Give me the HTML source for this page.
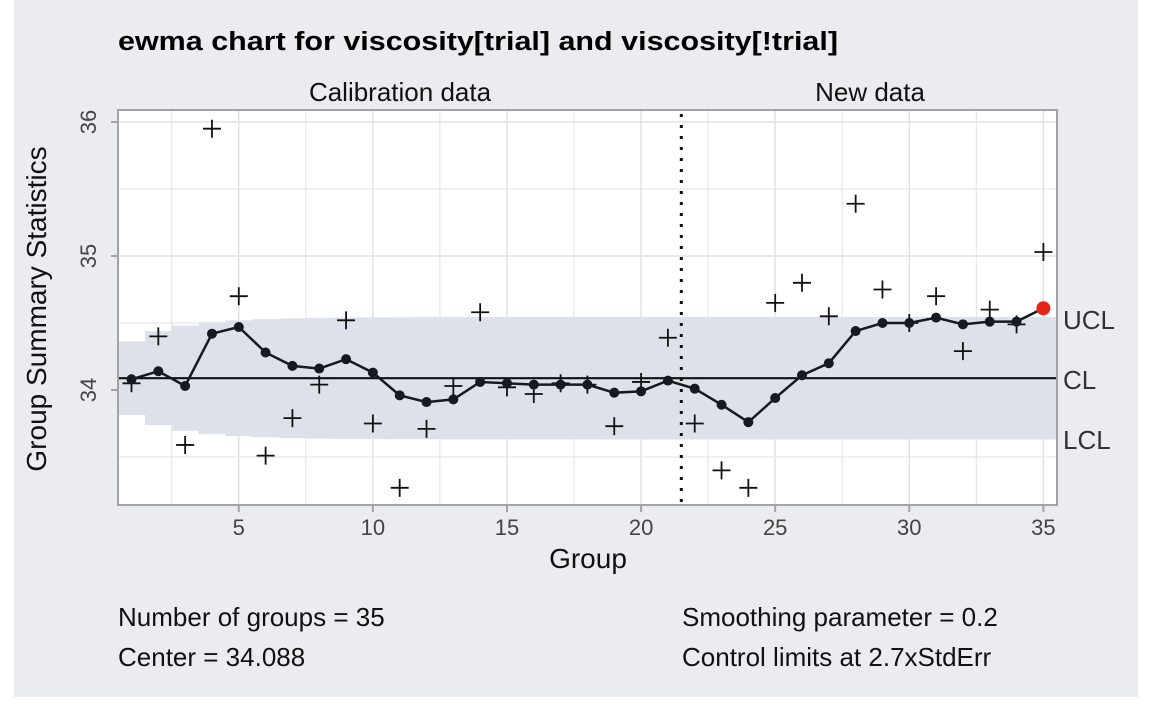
<!DOCTYPE html>
<html><head><meta charset="utf-8"><style>
body{margin:0;background:#fff;}
svg{display:block;font-family:"Liberation Sans",Arial,sans-serif;}
</style></head><body>
<svg id="chart" width="1152" height="711" viewBox="0 0 1152 711">
<rect x="14" y="0" width="1124" height="697" fill="#EBECF0"/>
<text x="118" y="50" font-size="25.5" font-weight="bold" fill="#000" textLength="720" lengthAdjust="spacingAndGlyphs">ewma chart for viscosity[trial] and viscosity[!trial]</text>
<rect x="118" y="110" width="939" height="395" fill="#fff"/>
<g id="grid"></g><g id="band"></g><g id="marks"></g>
<rect x="118" y="110" width="939" height="395" fill="none" stroke="#A3A3A3" stroke-width="2"/>
<text x="400" y="101" font-size="26" text-anchor="middle" fill="#111">Calibration data</text>
<text x="870" y="101" font-size="26" text-anchor="middle" fill="#111">New data</text>
<text transform="translate(46,309) rotate(-90)" font-size="28" text-anchor="middle" fill="#111">Group Summary Statistics</text>
<text x="588" y="568" font-size="28" text-anchor="middle" fill="#111">Group</text>
<text x="1063" y="329" font-size="26" fill="#333">UCL</text>
<text x="1063" y="389" font-size="26" fill="#333">CL</text>
<text x="1063" y="449" font-size="26" fill="#333">LCL</text>
<text x="118" y="626" font-size="26" fill="#111">Number of groups = 35</text>
<text x="118" y="666" font-size="26" fill="#111">Center = 34.088</text>
<text x="682" y="626" font-size="26" fill="#111">Smoothing parameter = 0.2</text>
<text x="682" y="666" font-size="26" fill="#111">Control limits at 2.7xStdErr</text>
</svg>
<script>
const stats=[34.05,34.40,33.59,35.95,34.70,33.51,33.79,34.04,34.52,33.75,33.27,33.71,34.03,34.58,34.02,33.97,34.05,34.04,33.73,34.06,34.39,33.75,33.40,33.27,34.65,34.80,34.55,35.39,34.75,34.50,34.70,34.29,34.60,34.49,35.03];
const ewma=[34.08,34.14,34.03,34.42,34.47,34.28,34.18,34.16,34.23,34.13,33.96,33.91,33.93,34.06,34.05,34.04,34.04,34.04,33.98,33.99,34.07,34.01,33.89,33.76,33.94,34.11,34.20,34.44,34.50,34.50,34.54,34.49,34.51,34.51,34.61];
const xTicks=[5,10,15,20,25,30,35];
const yTicks=[34,35,36];
const center=34.088, limitHalf=0.457, lambda=0.2, nCalib=21;
const NS="http://www.w3.org/2000/svg";
const X=g=>131.5+(g-1)*26.82;
const Y=v=>390-(v-34)*134;
function el(t,a,p){const e=document.createElementNS(NS,t);for(const k in a)e.setAttribute(k,a[k]);document.getElementById(p).appendChild(e);return e;}
for(let g=2.5;g<=35;g+=2.5){const e=el('line',{x1:X(g),x2:X(g),y1:111,y2:504,stroke:'#E2E2E2','stroke-width':(g%5?1:1.5)},'grid');

}
for(let v=33.5;v<=36;v+=0.5){const e=el('line',{x1:119,x2:1056,y1:Y(v),y2:Y(v),stroke:'#E2E2E2','stroke-width':(v%1?1:1.5)},'grid');

}
xTicks.forEach(t=>{const l=el('line',{x1:X(t),x2:X(t),y1:505,y2:512,stroke:'#A3A3A3','stroke-width':2},'grid');


const e=el('text',{x:X(t),y:535,'font-size':22,'text-anchor':'middle',fill:'#444'},'grid');e.textContent=t;

});
yTicks.forEach(t=>{const l=el('line',{x1:111,x2:118,y1:Y(t),y2:Y(t),stroke:'#A3A3A3','stroke-width':2},'grid');


const e=el('text',{transform:`translate(96,${Y(t)}) rotate(-90)`,'font-size':22,'text-anchor':'middle',fill:'#444'},'grid');e.textContent=t;

});
let bandTop='',bandBot='';
stats.forEach((s,i)=>{const f=Math.sqrt(1-Math.pow(1-lambda,2*(i+1)));const h=limitHalf*f;
const x0=i==0?119:X(i+0.5),x1=i==stats.length-1?1056:X(i+1.5);
bandTop+=`${i?'L':'M'}${x0},${Y(center+h)}L${x1},${Y(center+h)}`;
bandBot=`L${x1},${Y(center-h)}L${x0},${Y(center-h)}`+bandBot;});
const band=el('path',{d:bandTop+bandBot+'Z',fill:'#DCE1EA'},'band');


const cl=el('line',{x1:119,x2:1056,y1:Y(center),y2:Y(center),stroke:'#111','stroke-width':2.2},'marks');


const vl=el('line',{x1:X(nCalib+0.5),x2:X(nCalib+0.5),y1:114,y2:504,stroke:'#111','stroke-width':3,'stroke-dasharray':'3,8'},'marks');


stats.forEach((s,i)=>{const x=X(i+1),y=Y(s);const p=el('path',{d:`M${x-9},${y}H${x+9}M${x},${y-9}V${y+9}`,stroke:'#111','stroke-width':1.8},'marks');

});
const line=el('polyline',{points:ewma.map((v,i)=>X(i+1)+','+Y(v)).join(' '),fill:'none',stroke:'#151A22','stroke-width':2.5},'marks');


ewma.forEach((v,i)=>{const f=Math.sqrt(1-Math.pow(1-lambda,2*(i+1)));const out=v>center+limitHalf*f||v<center-limitHalf*f;
const c=el('circle',{cx:X(i+1),cy:Y(v),r:out?7:5,fill:out?'#E8231A':'#151A22'},'marks');

});
</script>
</body></html>
